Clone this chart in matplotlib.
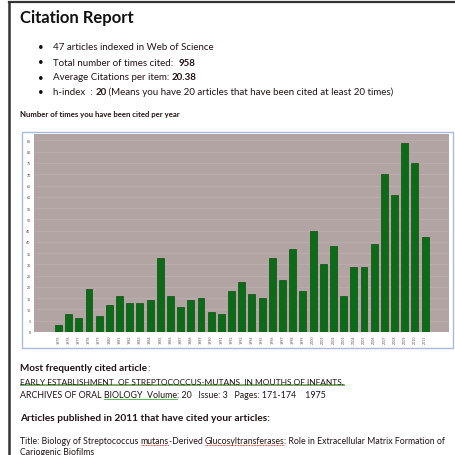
import matplotlib
matplotlib.use("Agg")
import matplotlib.pyplot as plt
from matplotlib.patches import Rectangle
from matplotlib.lines import Line2D

plt.rcParams['font.family'] = ['Lato', 'DejaVu Sans']

# ---- data ----
years = list(range(1975, 2012))
citations = [3, 8, 6, 19, 7, 12, 16, 13, 13, 14, 33, 16, 11, 14, 15, 9, 8, 18,
             22, 17, 15, 33, 23, 37, 18, 45, 30, 38, 16, 29, 29, 39, 70, 61, 84, 75, 42]
yticks = list(range(0, 90, 5))

title = "Citation Report"
bullets = [
    [("47 articles indexed in Web of Science", "normal")],
    [("Total number of times cited:  ", "normal"), ("958", "bold")],
    [("Average Citations per item: ", "normal"), ("20.38", "bold")],
    [("h-index  : ", "normal"), ("20", "bold"),
     (" (Means you have 20 articles that have been cited at least 20 times)", "normal")],
]
chart_heading = "Number of times you have been cited per year"
most_cited_heading = [("Most frequently cited article", "bold", None), (":", "normal", None)]
most_cited_title = [("EARLY ESTABLISHMENT  OF STREPTOCOCCUS-MUTANS  IN MOUTHS OF INFANTS.",
                     "normal", "link")]
most_cited_src = [("ARCHIVES OF ORAL ", "normal", None), ("BIOLOGY  Volume", "normal", "green"),
                  (": 20   Issue: 3   Pages: 171-174    1975", "normal", None)]
cited_heading = [("Articles published in 2011 that have cited your articles:", "bold", None)]
cited_line1 = [("Title: Biology of Streptococcus ", "normal", None), ("mutans", "normal", "red"),
               ("-Derived ", "normal", None), ("Glucosyltransferases", "normal", "red"),
               (": Role in Extracellular Matrix Formation of", "normal", None)]
cited_line2 = [("Cariogenic Biofilms", "normal", None)]

W, H = 455, 456
fig = plt.figure(figsize=(W / 100, H / 100), dpi=100)
fig.patch.set_facecolor('white')
TXT = '#241414'


def fx(px):
    return px / W


def fy(py):
    return 1 - py / H


# page border (top and left)
fig.add_artist(Line2D([fx(8.5), fx(455)], [fy(2.5), fy(2.5)], color='#333333', lw=1.6))
fig.add_artist(Line2D([fx(8.8), fx(8.8)], [fy(2.5), fy(456)], color='#333333', lw=1.8))

fig.text(fx(20), fy(18.5), title, fontsize=12, weight='bold', color='#111111',
         va='center', ha='left')

# chart frame
fig.add_artist(Rectangle((fx(21.7), fy(349)), fx(452.5) - fx(21.7), fy(132.7) - fy(349),
                         transform=fig.transFigure, facecolor='white',
                         edgecolor='#aabbdd', lw=1.0, zorder=0))

ax = fig.add_axes([fx(33.5), fy(333), fx(449) - fx(33.5), fy(134.7) - fy(333)])
ax.set_facecolor('#b3a4a4')
x = list(range(len(years)))
ax.bar(x, citations, width=0.68, color='#0b6b16', edgecolor='#0a4f10', linewidth=0.5, zorder=3)
ax.set_xlim(-2.45, len(years) - 1 + 2.35)
ax.set_ylim(0, 88)
ax.set_yticks(yticks)
ax.set_yticklabels([str(v) for v in yticks], fontsize=2.6, color='#5a3a3a')
ax.set_xticks(x)
ax.set_xticklabels([str(v) for v in years], rotation=90, fontsize=2.6, color='#6a4a4a')
ax.tick_params(length=0, pad=2)
ax.grid(axis='y', color='#bcaeae', lw=0.6, zorder=1)
for s in ax.spines.values():
    s.set_visible(False)

fig.canvas.draw()
renderer = fig.canvas.get_renderer()


def seq_line(parts, x0px, ypx, size):
    xcur = x0px
    for txt, wt, mark in parts:
        t = fig.text(xcur / W, fy(ypx), txt, fontsize=size, weight=wt, color=TXT,
                     va='baseline', ha='left')
        e = t.get_window_extent(renderer)
        yl = (e.y0 + 0.4) / H
        if mark == 'green':
            fig.add_artist(Line2D([e.x0 / W, e.x1 / W], [yl, yl], color='#55bb55', lw=0.7))
        elif mark == 'red':
            fig.add_artist(Line2D([e.x0 / W, e.x1 / W], [yl, yl], color='#e04040',
                                  lw=0.7, ls=(0, (1, 0.6))))
        elif mark == 'link':
            fig.add_artist(Line2D([e.x0 / W, e.x1 / W], [yl + 0.6 / H] * 2,
                                  color='#7a3a3a', lw=0.4))
            fig.add_artist(Line2D([e.x0 / W, e.x1 / W], [yl - 0.4 / H] * 2,
                                  color='#55bb55', lw=0.7))
        xcur = e.x1


# bullets
bullet_y = [50, 65.5, 80.5, 95]
for yy, parts in zip(bullet_y, bullets):
    fig.text(fx(41), fy(yy - 2.5), "\u2022", fontsize=7, color='#111111',
             va='center', ha='center')
    seq_line([(p[0], p[1], None) for p in parts], 53, yy, 7.0)

fig.text(fx(20), fy(117.5), chart_heading, fontsize=5.6, weight='bold', color=TXT,
         va='baseline', ha='left')

# lower text
seq_line(most_cited_heading, 20, 371.5, 7.2)
seq_line(most_cited_title, 20, 385, 6.0)
seq_line(most_cited_src, 20, 398, 6.4)
seq_line(cited_heading, 20, 421, 7.3)
seq_line(cited_line1, 20, 444, 6.3)
seq_line(cited_line2, 20, 455, 6.3)

fig.savefig("out.png", dpi=100, facecolor='white')
